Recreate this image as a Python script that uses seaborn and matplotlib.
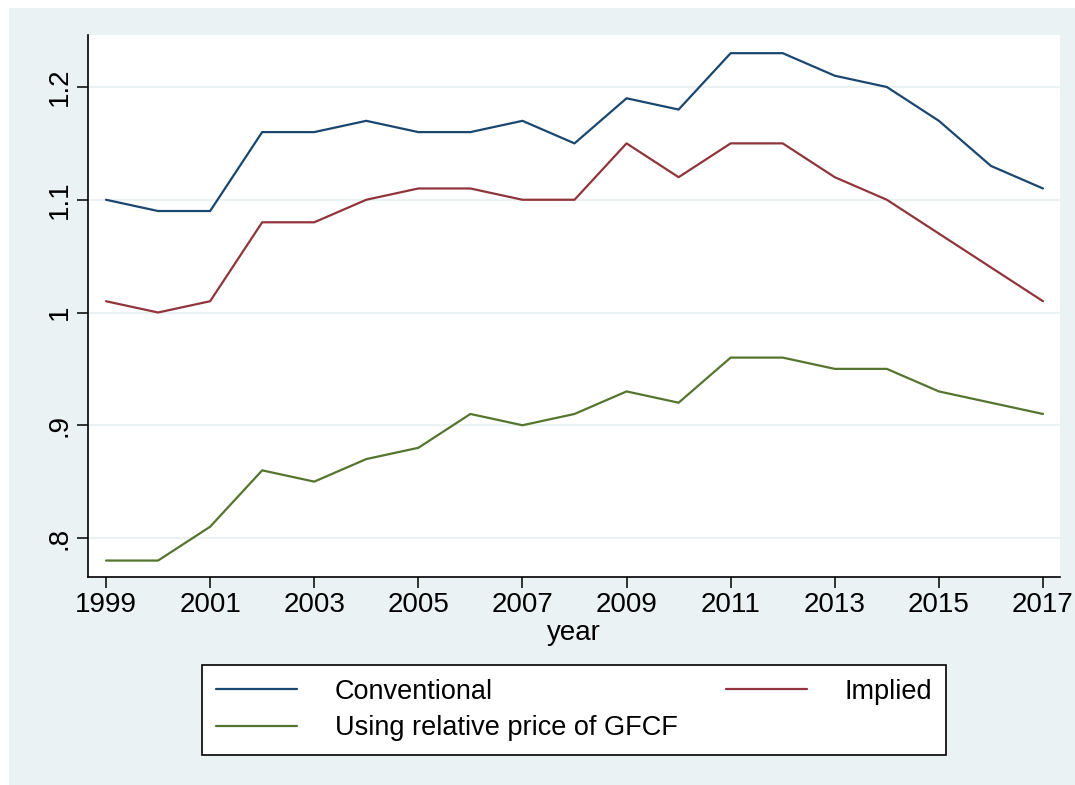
import pandas as pd
import numpy as np
import seaborn as sns
import matplotlib.pyplot as plt
from matplotlib.patches import Rectangle

years = list(range(1999, 2018))
conventional = [1.10, 1.09, 1.09, 1.16, 1.16, 1.17, 1.16, 1.16, 1.17, 1.15,
                1.19, 1.18, 1.23, 1.23, 1.21, 1.20, 1.17, 1.13, 1.11]
implied = [1.01, 1.00, 1.01, 1.08, 1.08, 1.10, 1.11, 1.11, 1.10, 1.10,
           1.15, 1.12, 1.15, 1.15, 1.12, 1.10, 1.07, 1.04, 1.01]
gfcf = [0.78, 0.78, 0.81, 0.86, 0.85, 0.87, 0.88, 0.91, 0.90, 0.91,
        0.93, 0.92, 0.96, 0.96, 0.95, 0.95, 0.93, 0.92, 0.91]

series_names = ["Conventional", "Implied", "Using relative price of GFCF"]
y_ticks = [0.8, 0.9, 1.0, 1.1, 1.2]
y_ticklabels = [".8", ".9", "1", "1.1", "1.2"]
x_ticks = list(range(1999, 2018, 2))

df = pd.DataFrame({"year": years * 3,
                   "value": conventional + implied + gfcf,
                   "series": [n for n in series_names for _ in years]})

sns.set_theme(style="white")
plt.rcParams["font.family"] = ["Liberation Sans", "DejaVu Sans"]
plt.rcParams["text.color"] = "black"

bg = "#EAF2F3"
palette = {"Conventional": "#1A476F", "Implied": "#90353B",
           "Using relative price of GFCF": "#55752F"}

W, H = 1075, 785
fig = plt.figure(figsize=(W / 100, H / 100), dpi=100, facecolor="white")
fig.patches.append(Rectangle((9 / W, 0), 1 - 9 / W, 1 - 8 / H,
                             transform=fig.transFigure, facecolor=bg,
                             edgecolor="none", zorder=-10))

ax = fig.add_axes([88 / W, 1 - 577 / H, (1060 - 88) / W, (577 - 35) / H])
ax.set_facecolor("white")

sns.lineplot(data=df, x="year", y="value", hue="series", palette=palette,
             linewidth=1.6, ax=ax, legend=False)

ax.set_xlim(1999 - 18 / 52, 2017 + 17 / 52)
ax.set_ylim(0.8 - 39 / 1127.5, 1.2 + 52 / 1127.5)
ax.set_xticks(x_ticks)
ax.set_xticklabels([str(x) for x in x_ticks], fontsize=20)
ax.set_yticks(y_ticks)
ax.set_yticklabels(y_ticklabels, fontsize=20, rotation=90, va="center")
ax.yaxis.grid(True, color=bg, linewidth=1.5)
ax.set_axisbelow(True)
ax.tick_params(axis="both", direction="out", length=8, width=1.1,
               color="black", labelcolor="black", pad=3, left=True, bottom=True)

for s in ["top", "right"]:
    ax.spines[s].set_visible(False)
for s in ["left", "bottom"]:
    ax.spines[s].set_color("black")
    ax.spines[s].set_linewidth(1.2)

ax.set_xlabel("year", fontsize=20, color="black", labelpad=1)
ax.set_ylabel("")

# legend, Stata-style: Conventional / GFCF in first column, Implied in second
order = ["Conventional", "Using relative price of GFCF", "Implied"]
handles = [plt.Line2D([], [], color=palette[n], linewidth=1.6) for n in order]
leg = fig.legend(handles, order, loc="lower left", ncol=2, mode="expand",
                 bbox_to_anchor=(202 / W, 1 - 755 / H, (946 - 202) / W, (755 - 666) / H),
                 fontsize=19.5, frameon=True, fancybox=False, framealpha=1,
                 handlelength=3.0, handletextpad=1.4, labelspacing=0.4,
                 borderpad=0.5, borderaxespad=0)
leg.get_frame().set_edgecolor("black")
leg.get_frame().set_linewidth(1.2)
leg.get_frame().set_facecolor("white")
for t in leg.get_texts():
    t.set_color("black")

fig.savefig("out.png", dpi=100, facecolor="white")
